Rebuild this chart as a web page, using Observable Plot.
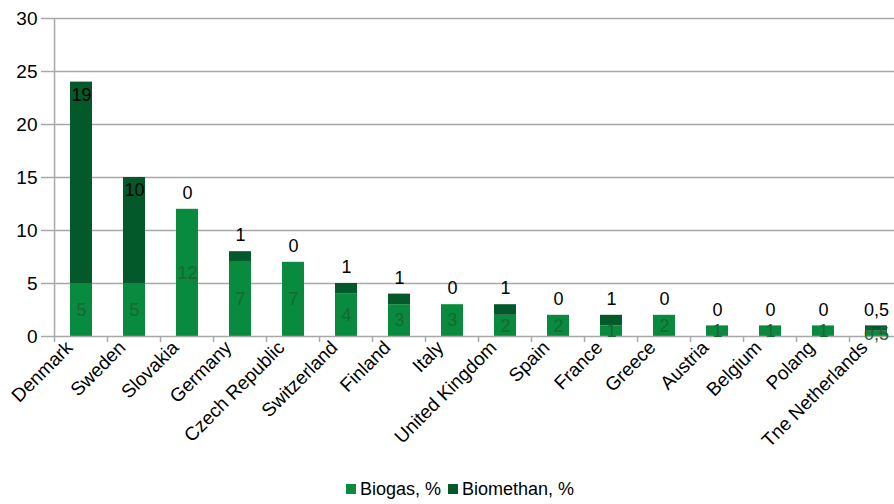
<!DOCTYPE html>
<html>
<head>
<meta charset="utf-8">
<script src="https://cdn.jsdelivr.net/npm/d3@7"></script>
<script src="https://cdn.jsdelivr.net/npm/@observablehq/plot@0.6"></script>
<style>
  html, body { margin: 0; padding: 0; background: #fff; width: 894px; height: 504px; overflow: hidden; }
  body { font-family: "Liberation Sans", Arial, sans-serif; position: relative; }
  #chart svg { max-width: none !important; }
  #legend { position: absolute; top: 479px; left: 346px; white-space: nowrap; font-size: 18px; color: #000; }
  #legend span.item { display: inline-block; margin-right: 7px; }
  #legend span.sw { display: inline-block; width: 10px; height: 10px; margin-right: 4px; vertical-align: 1px; }
</style>
</head>
<body>
<div id="chart"></div>
<div id="legend"></div>
<script>
const countries = ["Denmark","Sweden","Slovakia","Germany","Czech Republic","Switzerland","Finland","Italy","United Kingdom","Spain","France","Greece","Austria","Belgium","Polang","Tne Netherlands"];
const biogas =    [5, 5, 12, 7, 7, 4, 3, 3, 2, 2, 1, 2, 1, 1, 1, 0.5];
const biomethan = [19, 10, 0, 1, 0, 1, 1, 0, 1, 0, 1, 0, 0, 0, 0, 0.5];
const seriesNames = ["Biogas, %", "Biomethan, %"];
const colors = ["#088a3f", "#04592a"];
const yTicks = [0, 5, 10, 15, 20, 25, 30];

const fmt = v => String(v).replace(".", ",");

const rows = [];
countries.forEach((c, i) => {
  rows.push({country: c, series: seriesNames[0], value: biogas[i], y1: 0, y2: biogas[i]});
  rows.push({country: c, series: seriesNames[1], value: biomethan[i], y1: biogas[i], y2: biogas[i] + biomethan[i]});
});
const gasRows = rows.filter(r => r.series === seriesNames[0]);
const methRows = rows.filter(r => r.series === seriesNames[1]);
const methInside = methRows.filter(r => r.value > 5);
const methAbove = methRows.filter(r => r.value <= 5);

const W = 910, ML = 47, MR = 0;
const step = (W - ML - MR) / countries.length;

const chart = Plot.plot({
  width: W,
  height: 475,
  marginLeft: ML,
  marginRight: MR,
  marginTop: 18,
  marginBottom: 139,
  style: {fontFamily: '"Liberation Sans", Arial, sans-serif', background: "#fff", maxWidth: "none"},
  x: {domain: countries, paddingInner: 0.58, paddingOuter: 0.29, label: null},
  y: {domain: [0, 30], label: null},
  color: {domain: seriesNames, range: colors},
  marks: [
    Plot.gridY(yTicks.filter(t => t > 0), {stroke: "#a8a8a8", strokeOpacity: 1, strokeWidth: 1.5}),
    Plot.rectY(rows, {x: "country", y1: "y1", y2: "y2", fill: "series"}),
    Plot.ruleY([0], {stroke: "#a8a8a8", strokeWidth: 1.5}),
    Plot.ruleX([countries[0]], {dx: -step / 2, y1: 0, y2: 30, stroke: "#a8a8a8", strokeWidth: 1.5}),
    Plot.axisY({ticks: yTicks, tickSize: 6, tickPadding: 4, fontSize: 19, stroke: "#a8a8a8", strokeWidth: 1.5, color: "#000", label: null}),
    Plot.axisX({tickSize: 6, tickFormat: () => "", dx: -step / 2, stroke: "#a8a8a8", strokeWidth: 1.5, label: null}),
    Plot.axisX({tickSize: 0, tickPadding: 8, tickRotate: -45, dx: -12, fontSize: 19, color: "#000", label: null}),
    Plot.text(gasRows, {x: "country", y: d => (d.y1 + d.y2) / 2, text: d => fmt(d.value), fill: "#1c6634", fontSize: 18}),
    Plot.text(methInside, {x: "country", y: "y2", dy: 13, text: d => fmt(d.value), fill: "#000", fontSize: 18}),
    Plot.text(methAbove, {x: "country", y: "y2", dy: -16, text: d => fmt(d.value), fill: "#000", fontSize: 18})
  ]
});
chart.style.maxWidth = "none";
document.getElementById("chart").appendChild(chart);

const legend = document.getElementById("legend");
seriesNames.forEach((s, i) => {
  const item = document.createElement("span");
  item.className = "item";
  const sw = document.createElement("span");
  sw.className = "sw";
  sw.style.background = colors[i];
  item.appendChild(sw);
  item.appendChild(document.createTextNode(s));
  legend.appendChild(item);
});
</script>
</body>
</html>
